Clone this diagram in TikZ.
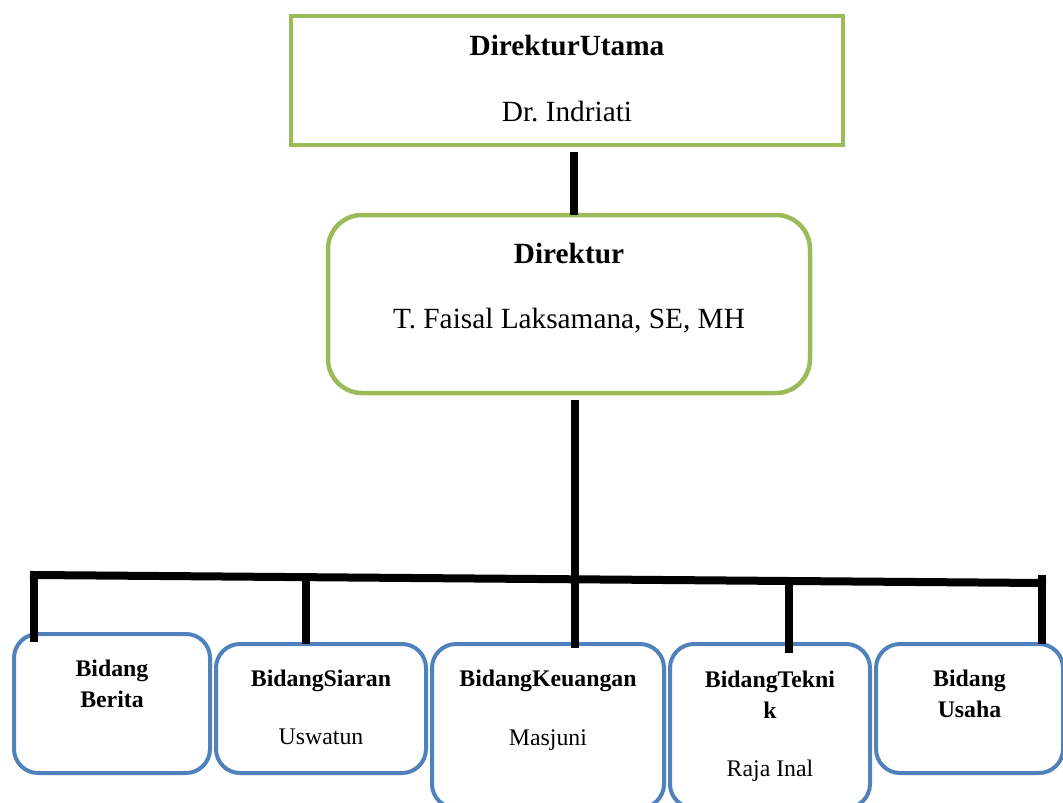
\documentclass[tikz,border=0pt]{standalone}
\usepackage{fontspec}
\setmainfont{Liberation Serif}
\usetikzlibrary{positioning, calc}

\definecolor{leafgreen}{HTML}{9BBB59}
\definecolor{unitblue}{HTML}{4F81BD}

\begin{document}
\begin{tikzpicture}[x=1pt, y=-1pt,
    every node/.style={inner sep=0pt, outer sep=0pt},
    topbox/.style={rectangle, draw=leafgreen, line width=4.5pt},
    dirbox/.style={rectangle, draw=leafgreen, line width=4.5pt, rounded corners=34pt},
    unitbox/.style={rectangle, draw=unitblue, line width=4pt, rounded corners=24pt},
    bigbold/.style={font=\fontsize{29.3}{35}\selectfont\bfseries, anchor=base},
    bigname/.style={font=\fontsize{29.3}{35}\selectfont, anchor=base},
    unithead/.style={font=\fontsize{23.8}{31}\selectfont\bfseries, anchor=base, align=center},
    unitname/.style={font=\fontsize{23.8}{31}\selectfont, anchor=base},
    conn/.style={line width=8pt, line cap=rect}]
    \useasboundingbox (0,0) rectangle (1063,803);

    % top management
    \node[topbox, minimum width=552pt, minimum height=129pt] (utama) at (567,80.5) {};
    \node[bigbold] (utamaT) at ([yshift=-39pt]utama.north) {DirekturUtama};
    \node[bigname] (utamaN) at ([yshift=-105pt]utama.north) {Dr.\ Indriati};

    \node[dirbox, minimum width=482pt, minimum height=178pt, below=70pt of utama, xshift=2pt] (dir) {};
    \node[bigbold] (dirT) at ([yshift=-48pt]dir.north) {Direktur};
    \node[bigname] (dirN) at ([yshift=-113pt]dir.north) {T.\ Faisal Laksamana, SE, MH};

    % divisions
    \node[unitbox, minimum width=196pt, minimum height=139pt] (berita) at (112,703.5) {};
    \node[unitbox, minimum width=210pt, minimum height=129pt] (siaran) at (321,708.5) {};
    \node[unitbox, minimum width=232pt, minimum height=164pt] (keuangan) at (548,726) {};
    \node[unitbox, minimum width=200pt, minimum height=164pt] (teknik) at (770,726) {};
    \node[unitbox, minimum width=187pt, minimum height=129pt] (usaha) at (969.5,708.5) {};

    % two-line heads sit on their last line
    \node[unithead] (beritaT) at ([yshift=-73pt]berita.north) {Bidang\\Berita};
    \node[unithead] (siaranT) at ([yshift=-42pt]siaran.north) {BidangSiaran};
    \node[unitname] (siaranN) at ([yshift=-100pt]siaran.north) {Uswatun};
    \node[unithead] (keuanganT) at ([yshift=-42pt]keuangan.north) {BidangKeuangan};
    \node[unitname] (keuanganN) at ([yshift=-101pt]keuangan.north) {Masjuni};
    \node[unithead] (teknikT) at ([yshift=-74pt]teknik.north) {BidangTekni\\k};
    \node[unitname] (teknikN) at ([yshift=-132pt]teknik.north) {Raja Inal};
    \node[unithead] (usahaT) at ([yshift=-73pt]usaha.north) {Bidang\\Usaha};

    % lines
    \coordinate (barL) at (34,575);
    \coordinate (barR) at (1042,583);
    \coordinate (trunk) at ([xshift=6pt,yshift=-11pt]dir.south);
    \coordinate (jSiaran) at ($(barL)!0.270!(barR)$);
    \coordinate (jTeknik) at ($(barL)!0.749!(barR)$);

    \draw[conn] ([xshift=7pt,yshift=-11pt]utama.south) -- ([xshift=7pt,yshift=4pt]utama.south |- dir.north);
    \draw[conn] (trunk) -- (trunk |- keuangan.north);
    \draw[conn] (barL) -- (barR);
    \draw[conn] (barL) -- ([yshift=-4pt]barL |- berita.north);
    \draw[conn] (jSiaran) -- ([yshift=4pt]jSiaran |- siaran.north);
    \draw[conn] (jTeknik) -- ([yshift=-5pt]jTeknik |- teknik.north);
    \draw[conn] ([yshift=4pt]barR) -- ([yshift=4pt]barR |- usaha.north);
\end{tikzpicture}
\end{document}
